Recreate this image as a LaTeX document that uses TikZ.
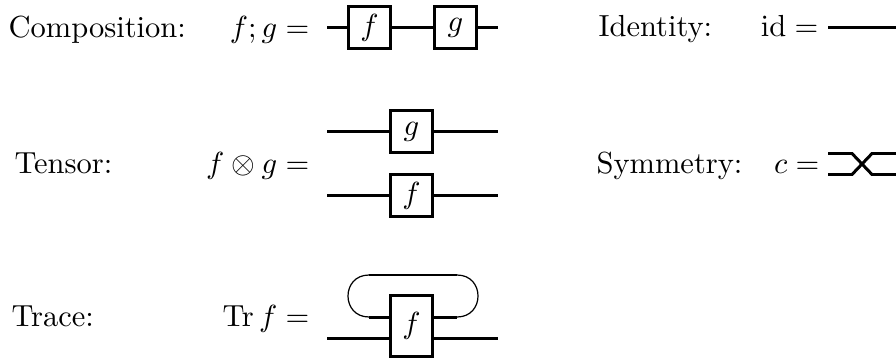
\documentclass[tikz,border=0pt]{standalone}
\usetikzlibrary{calc}
\begin{document}
\begin{tikzpicture}[x=0.328pt,y=-0.328pt,
  wire/.style={line width=0.98pt},
  thinwire/.style={line width=0.4pt},
  gate/.style={draw,line width=0.98pt,minimum width=13.8pt,minimum height=13.8pt,inner sep=0pt},
  tallgate/.style={gate,minimum height=20.1pt},
  lab/.style={anchor=base west,inner sep=0pt},
  eq/.style={anchor=base east,inner sep=0pt}]
\useasboundingbox (0,0) rectangle (896,360);

% Composition
\node[lab] (tcomp) at (8,37) {Composition:};
\node[eq] (ecomp) at (310,37) {$f;g=$};
\node[gate] (cf) at (369.5,27.5) {$f$};
\node[gate] (cg) at (455.5,27.5) {$g$};
\coordinate (ca) at (327,27.5);
\coordinate (cb) at (498,27.5);
\draw[wire] (ca) -- (cf) -- (cg) -- (cb);

% Identity
\node[lab] (tid) at (598,36) {Identity:};
\node[eq] (eid) at (819,36) {$\mathrm{id}=$};
\coordinate (ia) at (828,27.5);
\coordinate (ib) at (896,27.5);
\draw[wire] (ia) -- (ib);

% Tensor
\node[lab] (tten) at (14,173) {Tensor:};
\node[eq] (eten) at (310,173) {$f\otimes g=$};
\node[gate] (tg) at (411.5,131.5) {$g$};
\node[gate] (tf) at (411.5,195.5) {$f$};
\coordinate (ga) at (327,131.5);
\coordinate (gb) at (498,131.5);
\coordinate (fa) at (327,195.5);
\coordinate (fb) at (498,195.5);
\draw[wire] (ga) -- (tg) -- (gb);
\draw[wire] (fa) -- (tf) -- (fb);

% Symmetry
\node[lab] (tsym) at (596,173) {Symmetry:};
\node[eq] (esym) at (820,173) {$c=$};
\coordinate (s0) at (828,153.5);
\coordinate (s1) at (852,153.5);
\coordinate (s2) at (872,174.5);
\coordinate (s3) at (896,174.5);
\coordinate (r0) at (828,174.5);
\coordinate (r1) at (852,174.5);
\coordinate (r2) at (872,153.5);
\coordinate (r3) at (896,153.5);
\draw[wire] (s0) -- (s1) -- (s2) -- (s3);
\draw[wire] (r0) -- (r1) -- (r2) -- (r3);

% Trace
\node[lab] (ttr) at (11,326) {Trace:};
\node[eq] (etr) at (310,326) {$\mathop{\mathrm{Tr}} f=$};
\node[tallgate] (tb) at (411.5,326) {$f$};
\coordinate (la) at (327,338);
\coordinate (lb) at (498,338);
\coordinate (ila) at (369,317);
\coordinate (ira) at (457,317);
\coordinate (itl) at (369,275);
\coordinate (itr) at (457,275);
\draw[wire] (la) -- (la -| tb.west);
\draw[wire] (lb -| tb.east) -- (lb);
\draw[wire] (tb.west |- ila) -- (ila);
\draw[wire] (tb.east |- ira) -- (ira);
\draw[wire] (itl) -- (itr);
\draw[thinwire] (ila) .. controls (341,317) and (341,275) .. (itl);
\draw[thinwire] (ira) .. controls (485,317) and (485,275) .. (itr);
\end{tikzpicture}
\end{document}
